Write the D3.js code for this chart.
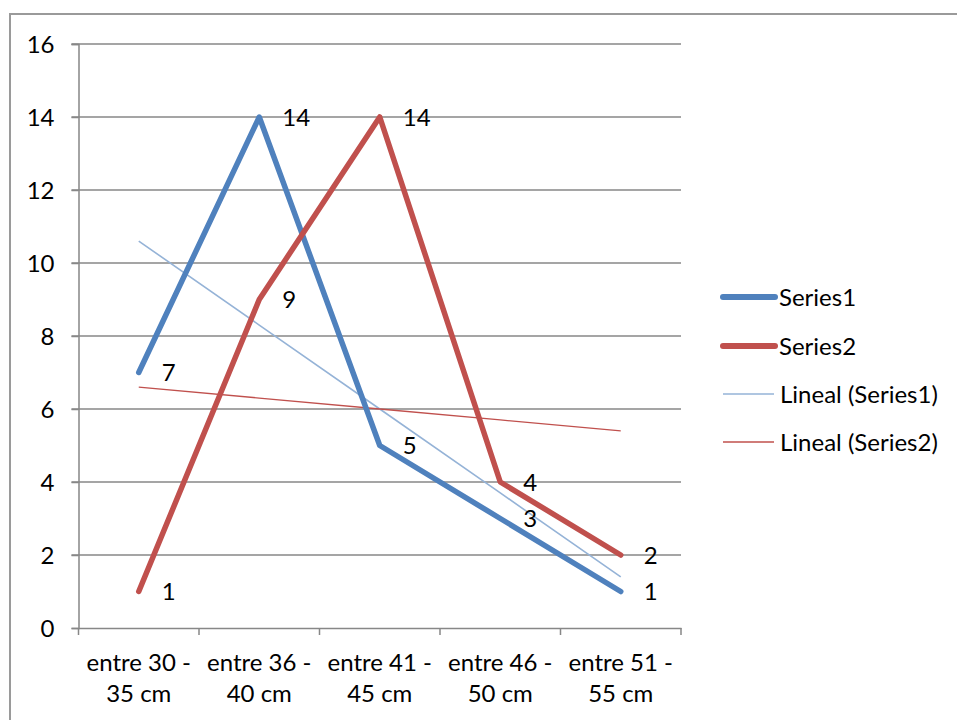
<!DOCTYPE html>
<html><head><meta charset="utf-8">
<script src="https://cdn.jsdelivr.net/npm/d3@7"></script>
<style>body{margin:0;background:#fff}svg{display:block}text{font-family:Lato,"Open Sans",sans-serif;fill:#000}</style>
</head><body><svg id="c" width="957" height="720"></svg>
<script>
const categories = [["entre 30 -","35 cm"],["entre 36 -","40 cm"],["entre 41 -","45 cm"],["entre 46 -","50 cm"],["entre 51 -","55 cm"]];
const series1 = [7,14,5,3,1];
const series2 = [1,9,14,4,2];
const yTicks = [0,2,4,6,8,10,12,14,16];
const seriesNames = ["Series1","Series2","Lineal (Series1)","Lineal (Series2)"];

const FS = 24;
const svg = d3.select("#c");
const m={l:78.5,r:681,t:44,b:628};
svg.append("rect").attr("x",10).attr("y",14).attr("width",960).attr("height",720).attr("fill","none").attr("stroke","#9a9a9a").attr("stroke-width",2);

const x = d3.scaleBand().domain(d3.range(categories.length)).range([m.l,m.r]);
const y = d3.scaleLinear().domain([0,16]).range([m.b,m.t]);
const cx = i => x(i)+x.bandwidth()/2;

// gridlines
svg.append("g").selectAll("line").data(yTicks.filter(d=>d>0)).join("line")
  .attr("x1",m.l-7).attr("x2",m.r).attr("y1",d=>y(d)).attr("y2",d=>y(d))
  .attr("stroke","#878787").attr("stroke-width",1.5);

// y axis
const ya = svg.append("g").attr("transform",`translate(${m.l},0)`)
  .call(d3.axisLeft(y).tickValues(yTicks).tickSize(7).tickPadding(17));
ya.select(".domain").attr("stroke","#878787").attr("stroke-width",1.5);
ya.selectAll(".tick line").attr("stroke","#878787").attr("stroke-width",1.5);
ya.selectAll(".tick text").attr("font-size",FS).style("font-family","Lato").attr("dy","0.34em");

// x axis
const xa = svg.append("g").attr("transform",`translate(0,${m.b})`)
  .call(d3.axisBottom(x).tickSize(0).tickFormat(""));
xa.select(".domain").attr("stroke","#878787").attr("stroke-width",1.5);
xa.selectAll(".tick").remove();
const edges = d3.range(categories.length+1).map(i=> i<categories.length? x(i): m.r);
svg.append("g").selectAll("line").data(edges).join("line")
  .attr("x1",d=>d).attr("x2",d=>d).attr("y1",m.b).attr("y2",m.b+7)
  .attr("stroke","#878787").attr("stroke-width",1.5);
const cl = svg.append("g").selectAll("text").data(categories).join("text")
  .attr("x",(d,i)=>cx(i)).attr("y",m.b+43).attr("text-anchor","middle").attr("font-size",FS);
cl.each(function(d){
  const t=d3.select(this);
  d.forEach((s,k)=>t.append("tspan").attr("x",t.attr("x")).attr("dy",k?31:0).text(s));
});

// trend lines (Excel linear trendline = least squares fit of the data)
function fit(v){const xs=v.map((_,i)=>i+1),mx=d3.mean(xs),my=d3.mean(v);
  const s=d3.sum(xs,(xx,i)=>(xx-mx)*(v[i]-my))/d3.sum(xs,xx=>(xx-mx)**2);
  return xs.map(xx=>my+s*(xx-mx));}
const line = d3.line().x((d,i)=>cx(i)).y(d=>y(d));
svg.append("path").attr("d",line(fit(series1))).attr("fill","none").attr("stroke","#95B3D7").attr("stroke-width",1.6);
svg.append("path").attr("d",line(fit(series2))).attr("fill","none").attr("stroke","#C0504D").attr("stroke-width",1.3);
[{v:series1,c:"#4F81BD"},{v:series2,c:"#C0504D"}].forEach(L=>{
  svg.append("path").attr("d",line(L.v)).attr("fill","none").attr("stroke",L.c).attr("stroke-width",5.5)
    .attr("stroke-linecap","round").attr("stroke-linejoin","round");
});
[series1,series2].forEach(v=>{
  svg.append("g").selectAll("text").data(v).join("text")
    .attr("x",(d,i)=>cx(i)+23).attr("y",d=>y(d)+8.5).attr("font-size",FS).text(d=>d);
});

// legend
const lg = svg.append("g");
const ly=[297,346,394,442];
const lstyles=[{c:"#4F81BD",w:6,cap:"round"},{c:"#C0504D",w:6,cap:"round"},{c:"#95B3D7",w:1.6,cap:"butt"},{c:"#C0504D",w:1.3,cap:"butt"}];
seriesNames.forEach((n,i)=>{
  const s=lstyles[i];
  lg.append("line").attr("x1",723).attr("x2",i<2?775:774).attr("y1",ly[i]).attr("y2",ly[i])
    .attr("stroke",s.c).attr("stroke-width",s.w).attr("stroke-linecap",s.cap);
  lg.append("text").attr("x",i<2?779:780).attr("y",ly[i]+8.5).attr("font-size",FS).text(n);
});
</script></body></html>
